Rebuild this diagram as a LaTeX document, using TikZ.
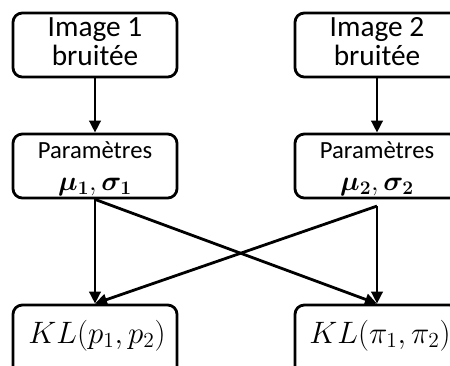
\documentclass[tikz,border=0pt]{standalone}
\usepackage{amsmath}
\usepackage{graphicx}
\usepackage{fontspec}
\setmainfont{Carlito}
\usetikzlibrary{arrows.meta}
\begin{document}
\begin{tikzpicture}[x=0.75pt,y=-0.75pt,line width=2.1pt,
  box/.style={draw,rounded corners=7pt,minimum width=123pt,minimum height=48pt,inner sep=0pt},
  klbox/.style={draw,rounded corners=7pt,minimum width=123pt,minimum height=52.5pt,inner sep=0pt},
  big/.style={font=\fontsize{22}{22}\selectfont,inner sep=0pt,anchor=base},
  mid/.style={font=\fontsize{18.5}{22}\selectfont,inner sep=0pt,anchor=base},
  pm/.style={font=\fontsize{20.5}{24}\selectfont,inner sep=0pt,anchor=base},
  mth/.style={font=\fontsize{20.74}{28}\selectfont,inner sep=0pt,anchor=base},
  arr/.style={-{Triangle[length=9pt,width=8.5pt]}}]
\useasboundingbox (0,0) rectangle (450,365);
\clip (0,0) rectangle (450,365);
\node[box] (img1) at (95,45) {};
\node[box] (img2) at (377,45) {};
\node[big] (img1a) at (95,36) {Image 1};
\node[big] (img1b) at (95,65) {bruitée};
\node[big] (img2a) at (377,36) {Image 2};
\node[big] (img2b) at (377,65) {bruitée};
\node[box] (par1) at (95,166) {};
\node[box] (par2) at (377,166) {};
\node[mid] (par1a) at (95,158) {Paramètres};
\node[pm] (par1b) at (95,190) {$\boldsymbol{\mu_1},\boldsymbol{\sigma_1}$};
\node[mid] (par2a) at (377,158) {Paramètres};
\node[pm] (par2b) at (377,190) {$\boldsymbol{\mu_2},\boldsymbol{\sigma_2}$};
\node[klbox] (kl1) at (95,340) {};
\node[klbox] (kl2) at (377,340) {};
\node[mth] (kl1t) at (97,343) {\scalebox{1.12}{$KL(p_1,p_2)$}};
\node[mth] (kl2t) at (380,343) {\scalebox{1.12}{$KL(\pi_1,\pi_2)$}};
\coordinate (p2s) at ([yshift=-5pt]par2.south);
\draw[arr] (img1.south) -- (par1.north);
\draw[arr] (img2.south) -- (par2.north);
\draw[arr] (par1.south) -- (kl1.north);
\draw[arr] (par1.south) -- (kl2.north);
\draw[arr] (p2s) -- (kl2.north);
\draw[arr] (p2s) -- (kl1.north);
\end{tikzpicture}
\end{document}
